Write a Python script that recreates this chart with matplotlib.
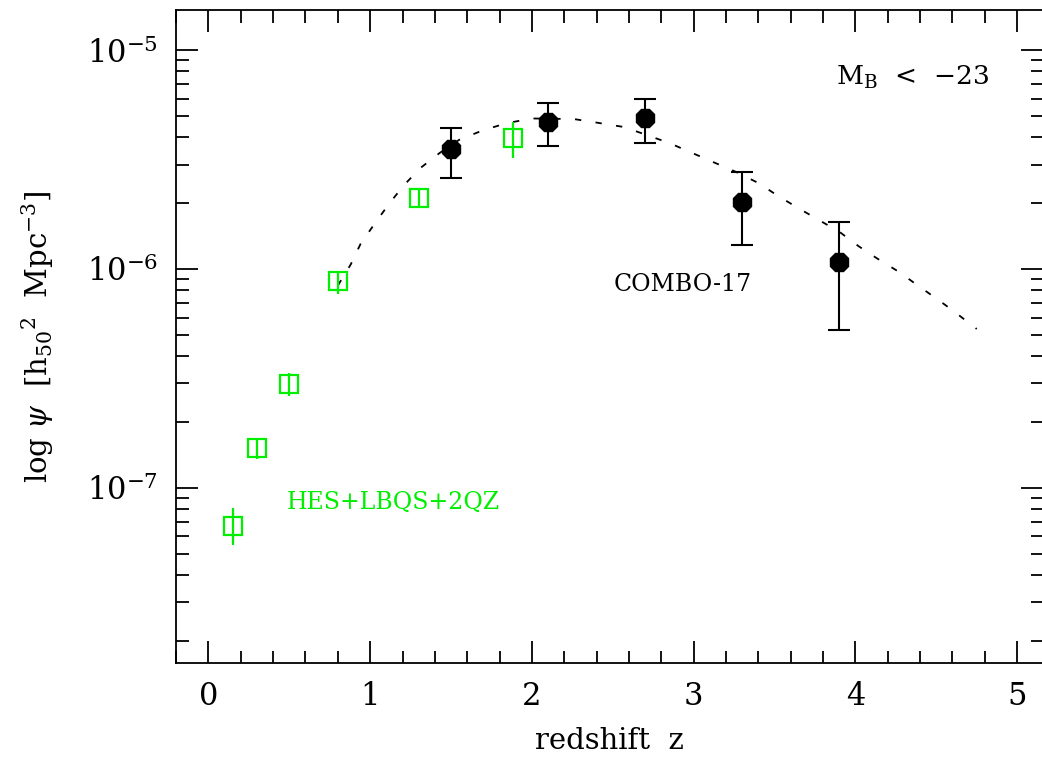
import numpy as np
import matplotlib
matplotlib.use('Agg')
from matplotlib import pyplot as plt

# COMBO-17 points (black octagons)
combo_z = [1.5, 2.1, 2.7, 3.3, 3.9]
combo_psi = [3.53e-6, 4.68e-6, 4.88e-6, 2.02e-6, 1.08e-6]
combo_hi = [4.40e-6, 5.73e-6, 5.97e-6, 2.76e-6, 1.64e-6]
combo_lo = [2.61e-6, 3.66e-6, 3.76e-6, 1.29e-6, 5.25e-7]

# HES+LBQS+2QZ points (green open squares)
hes_z = [0.15, 0.30, 0.50, 0.80, 1.30, 1.88]
hes_psi = [6.7e-8, 1.52e-7, 2.99e-7, 8.79e-7, 2.12e-6, 3.95e-6]
hes_hi = [8.07e-8, 1.69e-7, 3.34e-7, 9.82e-7, 2.33e-6, 4.71e-6]
hes_lo = [5.46e-8, 1.35e-7, 2.64e-7, 7.66e-7, 1.93e-6, 3.20e-6]

# model curve (dotted)
model_z = [0.80, 0.88, 0.94, 1.03, 1.12, 1.21, 1.31, 1.43, 1.55, 1.69, 1.84, 2.00,
           2.26, 2.41, 2.57, 2.85, 2.99, 3.12, 3.26, 3.40, 3.52, 3.64, 3.77, 3.90,
           4.02, 4.14, 4.27, 4.39, 4.52, 4.63, 4.75]
model_psi = [8.4e-7, 1.05e-6, 1.30e-6, 1.62e-6, 2.00e-6, 2.42e-6, 2.89e-6, 3.39e-6,
             3.89e-6, 4.28e-6, 4.63e-6, 4.87e-6, 4.84e-6, 4.65e-6, 4.45e-6, 3.76e-6,
             3.39e-6, 3.08e-6, 2.78e-6, 2.47e-6, 2.16e-6, 1.91e-6, 1.68e-6, 1.48e-6,
             1.27e-6, 1.11e-6, 9.69e-7, 8.36e-7, 7.16e-7, 6.23e-7, 5.32e-7]

GREEN = '#00ee00'

plt.rcParams['font.family'] = 'DejaVu Serif'
plt.rcParams['mathtext.fontset'] = 'dejavuserif'

fig = plt.figure(figsize=(10.42, 7.58), dpi=100)
ax = fig.add_axes([0.169, 0.1253, 0.832, 0.8615])

ax.plot(model_z, model_psi, color='black', lw=1.3, ls=(0, (3.5, 8)))

psi = np.array(hes_psi)
yerr = [psi - np.array(hes_lo), np.array(hes_hi) - psi]
ax.errorbar(hes_z, hes_psi, yerr=yerr, fmt='s', ms=13, mfc='none', mec=GREEN, mew=1.6,
            ecolor=GREEN, elinewidth=1.6, capsize=0, zorder=3)

psi = np.array(combo_psi)
yerr = [psi - np.array(combo_lo), np.array(combo_hi) - psi]
ax.errorbar(combo_z, combo_psi, yerr=yerr, fmt='8', ms=14, color='black',
            ecolor='black', elinewidth=1.5, capsize=8, capthick=1.5, zorder=4)

ax.set_yscale('log')
ax.set_xlim(-0.2, 5.16)
ax.set_ylim(10**-7.8, 10**-4.817)

ax.set_xticks([0, 1, 2, 3, 4, 5])
ax.set_xticks(np.arange(-0.2, 5.2, 0.2), minor=True)
ax.tick_params(which='both', direction='in', top=True, right=True, width=1.3)
ax.tick_params(which='major', length=16, labelsize=22, pad=13)
ax.tick_params(which='minor', length=9)
for sp in ax.spines.values():
    sp.set_linewidth(1.3)

ax.set_xlabel('redshift  z', fontsize=21)
ax.set_ylabel(r'log $\psi$  [h$_{50}$$^2$  Mpc$^{-3}$]', fontsize=21)
ax.xaxis.set_label_coords(0.5, -0.098)
ax.yaxis.set_label_coords(-0.138, 0.5)

ax.text(0.761, 0.885, r'M$_\mathrm{B}$  <  $-$23', transform=ax.transAxes,
        fontsize=19, ha='left', va='baseline')
ax.text(2.505, 7.94e-7, 'COMBO-17', fontsize=17, ha='left', va='baseline')
ax.text(0.482, 8.0e-8, 'HES+LBQS+2QZ', fontsize=17, color=GREEN, ha='left', va='baseline')

plt.savefig('out.png', dpi=100)
